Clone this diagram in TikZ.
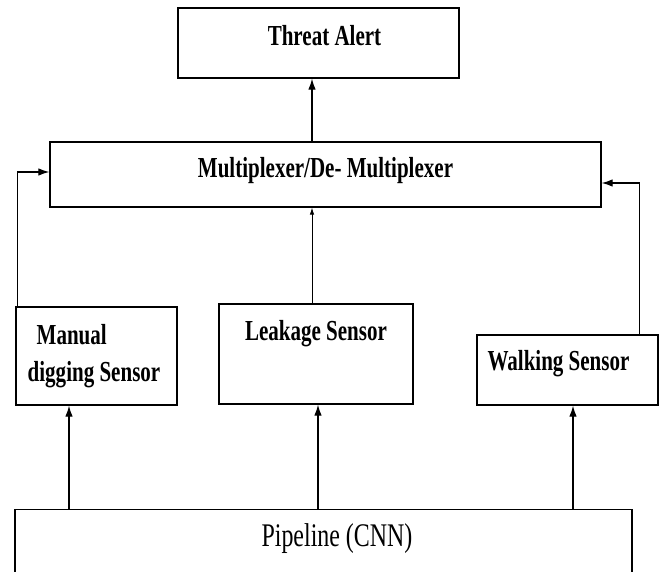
\documentclass[tikz,border=0pt]{standalone}
\usepackage{fontspec}
\setmainfont{Liberation Serif}[FakeStretch=0.725]
\usetikzlibrary{positioning,arrows.meta}

\begin{document}
\begin{tikzpicture}[
    x=1pt, y=-1pt,
    box/.style={rectangle,draw,line width=1.3pt,inner sep=0pt,font=\fontsize{29}{37}\selectfont\bfseries},
    arrow/.style={-{Latex[length=11pt,width=7.5pt]},line width=1.2pt},
    thinarrow/.style={-{Latex[length=7pt,width=4.5pt]},line width=0.8pt}
]
\useasboundingbox (0,0) rectangle (659,572);
\clip (0,0) rectangle (659,572);

% output side
\node[box,minimum width=281pt,minimum height=70pt,text height=19pt,text depth=14pt] (alert) at (318.5,43) {\hspace*{12pt}Threat Alert};
\node[box,minimum width=551pt,minimum height=65pt,text height=19pt,text depth=13pt] (mux) at (325.5,174.5) {Multiplexer/De- Multiplexer};

% sensors
\node[box,align=left,minimum width=161pt,minimum height=98pt] (digging) at (96.5,356) {\hspace{9pt}Manual\\digging Sensor\hspace*{5pt}};
\node[box,minimum width=194pt,minimum height=100pt,text height=19pt,text depth=46pt] (leakage) at (316,354) {Leakage Sensor};
\node[box,minimum width=181pt,minimum height=70pt,text height=19pt,text depth=18pt] (walking) at (567.5,370) {Walking Sensor\hspace*{18pt}};

% pipeline (runs off the bottom edge)
\node[box,anchor=north,minimum width=617pt,inner ysep=14pt,text height=23pt,text depth=40pt,font=\fontsize{33}{38}\selectfont] (pipeline) at (323.5,509) {\hspace*{27pt}Pipeline (CNN)};

\draw[arrow] ([xshift=-27.5pt]digging.south |- pipeline.north) -- ([xshift=-27.5pt]digging.south);
\draw[arrow] ([xshift=2pt]leakage.south |- pipeline.north) -- ([xshift=2pt]leakage.south);
\draw[arrow] ([xshift=5.5pt]walking.south |- pipeline.north) -- ([xshift=5.5pt]walking.south);

\draw[arrow] ([xshift=2pt]digging.north west) |- ([yshift=2.5pt]mux.west);
\draw[thinarrow] ([xshift=-4pt]leakage.north) -- ([xshift=-4pt]leakage.north |- mux.south);
\draw[arrow] ([xshift=-19pt]walking.north east) |- ([yshift=-8.5pt]mux.east);

\draw[arrow] ([xshift=-4pt]leakage.north |- mux.north) -- ([xshift=-4pt]leakage.north |- alert.south);
\end{tikzpicture}
\end{document}
